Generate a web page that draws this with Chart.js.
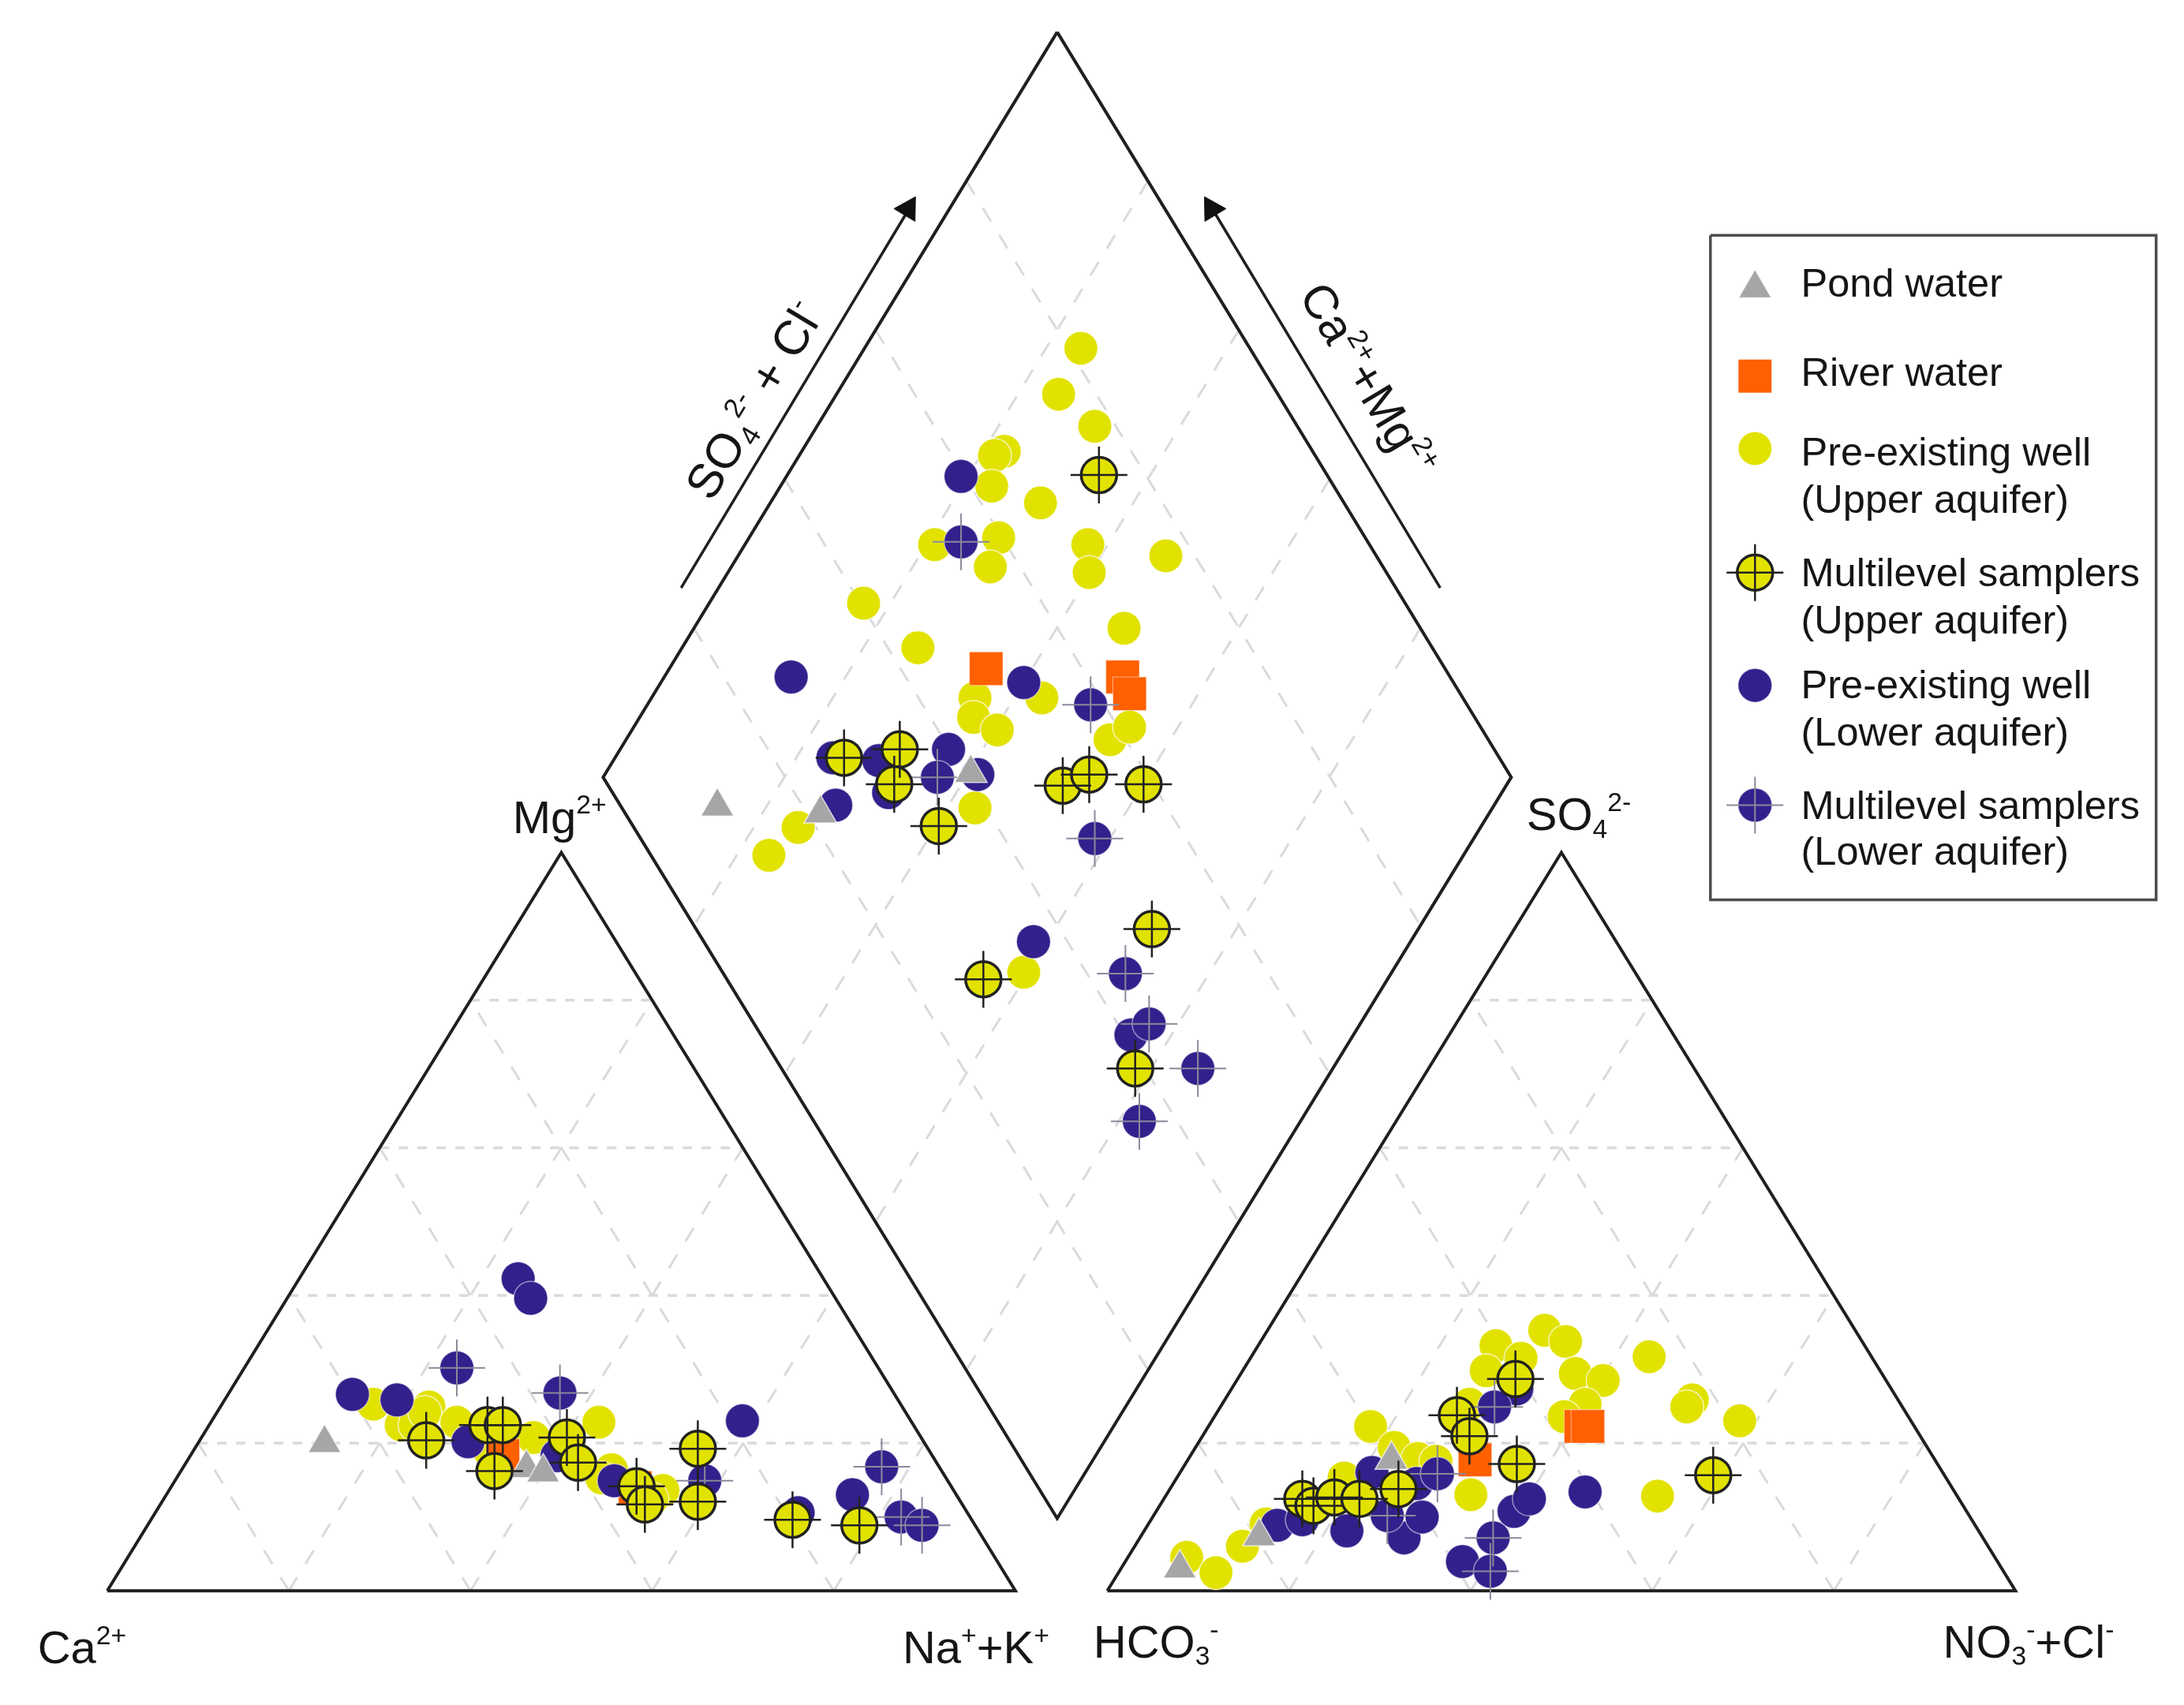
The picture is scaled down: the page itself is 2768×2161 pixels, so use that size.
<!DOCTYPE html>
<html>
<head>
<meta charset="utf-8">
<title>Piper diagram</title>
<script src="https://cdn.jsdelivr.net/npm/chart.js@4"></script>
<style>
  html, body { margin: 0; padding: 0; background: #fff; }
  canvas { display: block; }
</style>
</head>
<body>
<canvas id="piperChart" width="2768" height="2161"></canvas>
<script>

// Pond water
const pondDiamond = [[515, 579], [589, 584], [697, 555]];
const pondCation = [[233, 1036], [378, 1054], [390, 1057]];
const pondAnion = [[847, 1126], [904, 1103], [999, 1048]];

// River water
const riverDiamond = [[708, 480], [806, 486], [811, 498]];
const riverCation = [[361, 1045], [456, 1068]];
const riverAnion = [[1135, 1024], [1140, 1024], [1059, 1048]];

// Pre-existing well (Upper aquifer)
const wellUpperDiamond = [[776, 250], [760, 283], [786, 306], [721, 324], [714, 327], [712, 349], [747, 361], [717, 386], [671, 391], [711, 407], [781, 391], [782, 411], [837, 399], [620, 433], [659, 465], [807, 451], [700, 501], [699, 515], [716, 524], [748, 501], [797, 531], [811, 522], [700, 580], [573, 594], [552, 614], [735, 698]];
const wellUpperCation = [[268, 1008], [308, 1010], [288, 1023], [298, 1023], [305, 1014], [328, 1021], [383, 1032], [430, 1021], [351, 1041], [439, 1055], [432, 1061], [476, 1070], [468, 1076]];
const wellUpperAnion = [[1109, 955], [1124, 963], [1074, 966], [1092, 975], [1067, 984], [1131, 986], [1151, 991], [1184, 974], [1215, 1005], [1211, 1010], [1249, 1020], [1138, 1008], [1123, 1017], [984, 1024], [1001, 1039], [1018, 1047], [1031, 1049], [1056, 1073], [1190, 1074], [965, 1061], [852, 1118], [873, 1129], [892, 1110], [909, 1094], [1055, 1008]];

// Multilevel samplers (Upper aquifer)
const multiUpperDiamond = [[789, 341], [606, 544], [646, 538], [642, 563], [674, 593], [763, 564], [782, 556], [821, 563], [827, 667], [706, 703], [815, 767]];
const multiUpperCation = [[306, 1034], [350, 1023], [361, 1023], [355, 1056], [407, 1032], [415, 1050], [457, 1067], [463, 1080], [501, 1040], [501, 1078], [569, 1091], [617, 1095]];
const multiUpperAnion = [[1088, 990], [1046, 1016], [1055, 1031], [1089, 1051], [1230, 1059], [935, 1076], [943, 1081], [958, 1075], [976, 1076], [1004, 1069]];

// Pre-existing well (Lower aquifer)
const wellLowerDiamond = [[690, 342], [568, 486], [735, 490], [681, 538], [598, 544], [631, 546], [702, 556], [600, 578], [638, 569], [742, 676], [812, 743]];
const wellLowerCation = [[372, 918], [381, 932], [253, 1001], [285, 1005], [533, 1020], [612, 1073], [441, 1063], [400, 1045], [336, 1035], [573, 1086]];
const wellLowerAnion = [[1087, 1085], [1098, 1076], [1138, 1071], [1050, 1121], [1008, 1104], [1021, 1089], [967, 1099], [917, 1095], [985, 1057], [1017, 1065], [935, 1091], [1089, 997]];

// Multilevel samplers (Lower aquifer)
const multiLowerDiamond = [[690, 389], [783, 506], [673, 558], [786, 602], [808, 699], [825, 735], [860, 767], [818, 805]];
const multiLowerCation = [[328, 982], [402, 1000], [633, 1053], [506, 1063], [647, 1089], [662, 1095]];
const multiLowerAnion = [[1073, 1010], [1072, 1104], [1070, 1128], [1032, 1058], [996, 1088]];

// Legend keys and the arrow heads
const legendX = 1260;
const legendKeyY = [207, 270, 322, 411, 492, 578];
const legendBox = [[1228, 169], [1548, 169], [1548, 646], [1228, 646], [1228, 169]];
const arrowLeftLine = [[489, 422], [655, 146]];
const arrowRightLine = [[1034, 422], [868, 146]];
const arrowLeftHead = [[652, 150]];
const arrowRightHead = [[870, 150]];

// Diagram frames
const cationFrame = [[77, 1142], [729, 1142], [403, 612], [77, 1142]];
const anionFrame = [[795, 1142], [1447, 1142], [1121, 612], [795, 1142]];
const diamondFrame = [[759, 23], [1085, 558], [759, 1090], [433, 558], [759, 23]];

const axisLabels = [
  { x: 368, y: 598, rot: 0, size: 58, parts: [["Mg"], ["2+", "sup"]] },
  { x: 1096, y: 596, rot: 0, size: 58, parts: [["SO"], ["4", "sub"], ["2-", "sup"]] },
  { x: 27, y: 1194, rot: 0, size: 58, parts: [["Ca"], ["2+", "sup"]] },
  { x: 648, y: 1194, rot: 0, size: 58, parts: [["Na"], ["+", "sup"], ["+K"], ["+", "sup"]] },
  { x: 785, y: 1190, rot: 0, size: 58, parts: [["HCO"], ["3", "sub"], ["-", "sup"]] },
  { x: 1395, y: 1190, rot: 0, size: 58, parts: [["NO"], ["3", "sub"], ["-", "sup"], ["+Cl"], ["-", "sup"]] },
  { x: 511, y: 361, rot: -59, size: 61, parts: [["SO"], ["4", "sub"], ["2-", "sup"], [" + Cl"], ["-", "sup"]] },
  { x: 932, y: 212, rot: 59, size: 60, parts: [["Ca"], ["2+", "sup"], ["+Mg"], ["2+", "sup"]] }
];

const legendLabels = [
  ["Pond water", 1293, 213],
  ["River water", 1293, 277],
  ["Pre-existing well", 1293, 334],
  ["(Upper aquifer)", 1293, 368],
  ["Multilevel samplers", 1293, 421],
  ["(Upper aquifer)", 1293, 455],
  ["Pre-existing well", 1293, 501],
  ["(Lower aquifer)", 1293, 535],
  ["Multilevel samplers", 1293, 588],
  ["(Lower aquifer)", 1293, 621]
];

const toPts = arr => arr.map(p => ({ x: p[0], y: p[1] }));

const gridColor = "#dadada";
const flatDash = [12, 12];
const slantDash = [20, 20];

// Line datasets for one frame; order 30+ stays behind the markers
function lineSet(points, color, width, dash) {
  return {
    data: toPts(points),
    showLine: true,
    tension: 0,
    borderColor: color,
    borderWidth: width,
    borderDash: dash || [],
    pointRadius: 0,
    order: dash ? 40 : 30
  };
}

function triangleGrid(a, b, top) {
  const sets = [];
  const at = (p, q, t) => [p[0] + (q[0] - p[0]) * t, p[1] + (q[1] - p[1]) * t];
  for (let k = 1; k < 5; k++) {
    const t = k / 5;
    sets.push(lineSet([at(a, top, t), at(b, top, t)], gridColor, 3.5, flatDash));
    sets.push(lineSet([at(a, b, t), at(a, top, t)], gridColor, 3, slantDash));
    sets.push(lineSet([at(a, b, t), at(b, top, 1 - t)], gridColor, 3, slantDash));
  }
  return sets;
}

function diamondGrid(top, right, bottom, left) {
  const sets = [];
  const at = (p, q, t) => [p[0] + (q[0] - p[0]) * t, p[1] + (q[1] - p[1]) * t];
  for (let k = 1; k < 5; k++) {
    const t = k / 5;
    sets.push(lineSet([at(top, left, t), at(right, bottom, t)], gridColor, 3, slantDash));
    sets.push(lineSet([at(top, right, t), at(left, bottom, t)], gridColor, 3, slantDash));
  }
  return sets;
}

function markerSet(points, style, radius, fill, border, width, order, rotation) {
  return {
    data: toPts(points),
    showLine: false,
    pointStyle: style,
    pointRadius: radius,
    pointBackgroundColor: fill,
    pointBorderColor: border,
    pointBorderWidth: width,
    pointRotation: rotation || 0,
    order: order
  };
}

const allPond = [...pondDiamond, ...pondCation, ...pondAnion, [legendX, legendKeyY[0]]];
const allRiver = [...riverDiamond, ...riverCation, ...riverAnion, [legendX, legendKeyY[1]]];
const allWellUpper = [...wellUpperDiamond, ...wellUpperCation, ...wellUpperAnion, [legendX, legendKeyY[2]]];
const allMultiUpper = [...multiUpperDiamond, ...multiUpperCation, ...multiUpperAnion, [legendX, legendKeyY[3]]];
const allWellLower = [...wellLowerDiamond, ...wellLowerCation, ...wellLowerAnion, [legendX, legendKeyY[4]]];
const allMultiLower = [...multiLowerDiamond, ...multiLowerCation, ...multiLowerAnion, [legendX, legendKeyY[5]]];

const textPlugin = {
  id: "piperText",
  afterDraw(chart) {
    const ctx = chart.ctx;
    const sx = chart.scales.x, sy = chart.scales.y;
    ctx.save();
    ctx.fillStyle = "#151515";
    ctx.textBaseline = "alphabetic";

    ctx.font = "50.5px 'Liberation Sans'";
    legendLabels.forEach(l => ctx.fillText(l[0], sx.getPixelForValue(l[1]), sy.getPixelForValue(l[2])));

    axisLabels.forEach(l => {
      ctx.save();
      ctx.translate(sx.getPixelForValue(l.x), sy.getPixelForValue(l.y));
      ctx.rotate(l.rot * Math.PI / 180);
      let cx = 0;
      l.parts.forEach(([txt, kind]) => {
        ctx.font = (kind ? l.size * 0.58 : l.size) + "px 'Liberation Sans'";
        const dy = kind === "sup" ? -l.size * 0.42 : kind === "sub" ? l.size * 0.16 : 0;
        ctx.fillText(txt, cx, dy);
        cx += ctx.measureText(txt).width;
      });
      ctx.restore();
    });
    ctx.restore();
  }
};

new Chart(document.getElementById("piperChart"), {
  type: "scatter",
  data: {
    datasets: [
      ...triangleGrid(cationFrame[0], cationFrame[1], cationFrame[2]),
      ...triangleGrid(anionFrame[0], anionFrame[1], anionFrame[2]),
      ...diamondGrid(diamondFrame[0], diamondFrame[1], diamondFrame[2], diamondFrame[3]),
      lineSet(cationFrame, "#1f1f1f", 4),
      lineSet(anionFrame, "#1f1f1f", 4),
      lineSet(diamondFrame, "#1f1f1f", 4),
      lineSet(arrowLeftLine, "#1f1f1f", 3.5),
      lineSet(arrowRightLine, "#1f1f1f", 3.5),
      lineSet(legendBox, "#4d4d4d", 3.5),
      markerSet(arrowLeftHead, "triangle", 18, "#111111", "#111111", 1, 25, 31),
      markerSet(arrowRightHead, "triangle", 18, "#111111", "#111111", 1, 25, -31),
      markerSet(allWellUpper, "circle", 21.5, "#e2e200", "rgba(255,255,255,0.7)", 1.5, 20),
      markerSet(allRiver, "rect", 30, "#ff6000", "rgba(255,255,255,0.5)", 1, 19),
      markerSet(allWellLower, "circle", 21.5, "#33208c", "rgba(255,255,255,0.5)", 1.5, 18),
      markerSet(allMultiLower, "circle", 21.5, "#33208c", "rgba(255,255,255,0.5)", 1.5, 17),
      markerSet(allMultiLower, "cross", 36, "#8a8a9a", "#8a8a9a", 2, 16),
      markerSet(allPond, "triangle", 24, "#a6a6a6", "rgba(255,255,255,0.7)", 1.5, 15),
      markerSet(allMultiUpper, "circle", 22.5, "#e2e200", "#222222", 3.5, 14),
      markerSet(allMultiUpper, "cross", 36, "#222222", "#222222", 2.5, 13)
    ]
  },
  options: {
    responsive: false,
    devicePixelRatio: 1,
    animation: false,
    layout: { padding: 0, autoPadding: false },
    events: [],
    plugins: {
      legend: { display: false },
      title: { display: false },
      tooltip: { enabled: false }
    },
    scales: {
      x: { type: "linear", min: 0, max: 1568, display: false },
      y: { type: "linear", min: 0, max: 1224, reverse: true, display: false }
    }
  },
  plugins: [textPlugin]
});
</script>
</body>
</html>
